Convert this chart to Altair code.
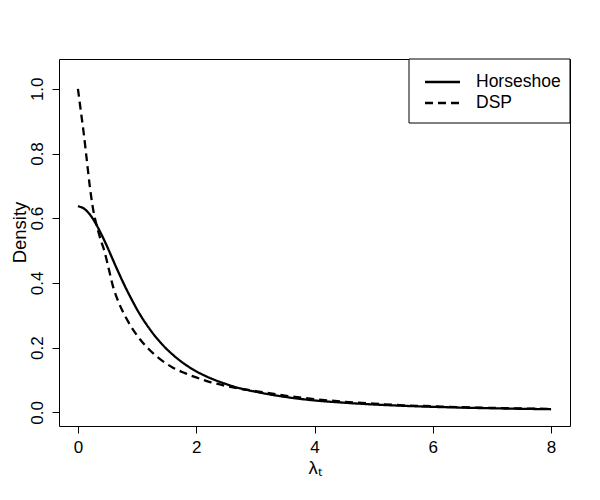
import altair as alt
import pandas as pd

series_names = ["Horseshoe", "DSP"]

hs_x = [0.0, 0.1, 0.2, 0.3, 0.4, 0.5, 0.6, 0.7, 0.8, 0.9, 1.0, 1.2, 1.4, 1.6, 1.8,
        2.0, 2.25, 2.5, 2.75, 3.0, 3.5, 4.0, 4.5, 5.0, 5.5, 6.0, 6.5, 7.0, 7.5, 8.0]
hs_y = [0.637, 0.630, 0.612, 0.584, 0.549, 0.510, 0.468, 0.427, 0.388, 0.352, 0.318,
        0.261, 0.215, 0.179, 0.150, 0.127, 0.105, 0.088, 0.074, 0.064, 0.048, 0.037,
        0.030, 0.0245, 0.0204, 0.0172, 0.0148, 0.0128, 0.0112, 0.0098]

dsp_x = [0.0, 0.05, 0.1, 0.15, 0.2, 0.25, 0.3, 0.35, 0.4, 0.45, 0.5, 0.6, 0.7, 0.8, 0.9,
         1.0, 1.2, 1.4, 1.6, 1.8, 2.0, 2.25, 2.5, 2.75, 3.0, 3.5, 4.0, 4.5, 5.0, 5.5,
         6.0, 6.5, 7.0, 7.5, 8.0]
dsp_y = [1.0, 0.93, 0.86, 0.78, 0.70, 0.635, 0.59, 0.555, 0.525, 0.497, 0.46, 0.385,
         0.335, 0.297, 0.265, 0.238, 0.195, 0.163, 0.139, 0.122, 0.108, 0.093, 0.082,
         0.073, 0.066, 0.052, 0.041, 0.033, 0.027, 0.022, 0.019, 0.016, 0.014, 0.012,
         0.011]

x_ticks = [0, 2, 4, 6, 8]
y_ticks = [0.0, 0.2, 0.4, 0.6, 0.8, 1.0]

df = pd.concat([
    pd.DataFrame({"lam": hs_x, "density": hs_y, "series": series_names[0]}),
    pd.DataFrame({"lam": dsp_x, "density": dsp_y, "series": series_names[1]}),
], ignore_index=True)

FONT = "Liberation Sans"
dashes = [[1, 0], [8, 5]]

x_scale = alt.Scale(domain=[-0.32, 8.32], nice=False, zero=False)
y_scale = alt.Scale(domain=[-0.042, 1.092], nice=False, zero=False)

lines = alt.Chart(df).mark_line(
    color="black", strokeWidth=2.3, interpolate="monotone", clip=True
).encode(
    x=alt.X("lam:Q", scale=x_scale,
            axis=alt.Axis(values=x_ticks, title="λₜ", format="d",
                          labelPadding=6, labelBaseline="top",
                          titleBaseline="alphabetic", titleY=47)),
    y=alt.Y("density:Q", scale=y_scale,
            axis=alt.Axis(values=y_ticks, title="Density", format=".1f",
                          labelAngle=270, labelAlign="center",
                          labelBaseline="alphabetic", labelPadding=10,
                          titleAngle=270, titleBaseline="alphabetic",
                          titleAlign="center", titleX=-34, titleY=173)),
    strokeDash=alt.StrokeDash("series:N",
                              scale=alt.Scale(domain=series_names, range=dashes),
                              legend=None),
    detail="series:N",
)

box = alt.Chart(pd.DataFrame({"k": [0]})).mark_rect(
    fill="white", stroke="black", strokeWidth=1
).encode(
    x=alt.value(350), x2=alt.value(511), y=alt.value(0), y2=alt.value(64)
)

legend_layers = [box]
for i, name in enumerate(series_names):
    ydy = 23 + 21 * i
    ldf = pd.DataFrame({"series": [name]})
    legend_layers.append(
        alt.Chart(ldf).mark_rule(color="black", strokeWidth=2.3,
                                 strokeDash=dashes[i]).encode(
            x=alt.value(366), x2=alt.value(401), y=alt.value(ydy)
        )
    )
    legend_layers.append(
        alt.Chart(ldf).mark_text(align="left", baseline="middle", font=FONT,
                                 fontSize=17.5, color="black").encode(
            x=alt.value(417), y=alt.value(ydy), text="series:N"
        )
    )

chart = alt.layer(lines, *legend_layers).properties(
    width=511, height=367,
    background="white",
    autosize=alt.AutoSizeParams(type="none"),
    padding={"left": 51, "top": 51, "right": 14, "bottom": 58},
).configure_view(
    stroke="black", strokeWidth=1
).configure_axis(
    domain=False, grid=False, tickColor="black", tickSize=7, tickWidth=1,
    labelFont=FONT, labelFontSize=17, labelColor="black",
    titleFont=FONT, titleFontSize=18.5, titleFontWeight="normal", titleColor="black",
)

chart.save("out.html", embed_options={"renderer": "svg", "actions": False})
